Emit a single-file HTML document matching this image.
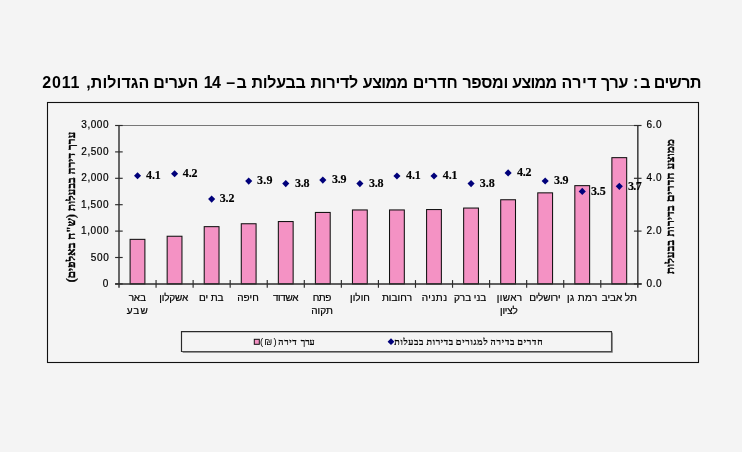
<!DOCTYPE html>
<html lang="he">
<head>
<meta charset="utf-8">
<title>תרשים ב</title>
<style>
html,body{margin:0;padding:0;background:#f4f4f4;}
body{width:742px;height:452px;overflow:hidden;position:relative;}
svg{position:absolute;left:0;top:0;display:block;}
text{fill:#000;}
.sans{font-family:"Liberation Sans","DejaVu Sans",sans-serif;}
.serif{font-family:"Liberation Serif","DejaVu Serif",serif;font-weight:bold;}
.t{font-size:16px;font-weight:bold;}
.a{font-size:10px;stroke:#000;stroke-width:0.2px;}
.d{font-size:12px;stroke:#000;stroke-width:0.15px;}
.l{font-size:9px;stroke:#000;stroke-width:0.2px;}
.p{font-size:9.5px;}
.x{font-size:11.5px;stroke:#000;stroke-width:0.4px;}
</style>
</head>
<body>
<svg width="742" height="452" viewBox="0 0 742 452">
<rect x="0" y="0" width="742" height="452" fill="#f4f4f4"/>
<g class="sans t" direction="rtl" text-anchor="middle">
<text x="677.4" y="88" letter-spacing="-0.47">תרשים</text>
<text x="642.8" y="88" letter-spacing="2.1">ב:</text>
<text x="614.58" y="88" letter-spacing="-0.22">ערך</text>
<text x="579.25" y="88" letter-spacing="0.45">דירה</text>
<text x="534.33" y="88" letter-spacing="-0.7">ממוצע</text>
<text x="485.17" y="88" letter-spacing="-0.33">ומספר</text>
<text x="435.08" y="88" letter-spacing="-0.21">חדרים</text>
<text x="385.22" y="88" letter-spacing="-0.6">ממוצע</text>
<text x="334.3" y="88" letter-spacing="-0.23">לדירות</text>
<text x="278.48" y="88" letter-spacing="-0.26">בבעלות</text>
<text x="237.12" y="88" letter-spacing="1.2">ב–</text>
<text x="212.12" y="88" letter-spacing="-0.45">14</text>
<text x="175.62" y="88" letter-spacing="-0.2">הערים</text>
<text x="117.92" y="88" letter-spacing="0.08">הגדולות,</text>
<text x="61.32" y="88" letter-spacing="0.85">2011</text>
</g>
<rect x="47.5" y="102.5" width="651" height="260" fill="none" stroke="#111" stroke-width="1.1"/>
<line x1="119" y1="125.5" x2="637.84" y2="125.5" stroke="#777" stroke-width="1.1"/>
<g fill="#f492c4" stroke="#111" stroke-width="1.05">
<rect x="130.1" y="239.35" width="14.8" height="44.55"/>
<rect x="167.16" y="236.25" width="14.8" height="47.65"/>
<rect x="204.22" y="226.65" width="14.8" height="57.25"/>
<rect x="241.28" y="223.75" width="14.8" height="60.15"/>
<rect x="278.34" y="221.55" width="14.8" height="62.35"/>
<rect x="315.4" y="212.45" width="14.8" height="71.45"/>
<rect x="352.46" y="209.95" width="14.8" height="73.95"/>
<rect x="389.52" y="209.95" width="14.8" height="73.95"/>
<rect x="426.58" y="209.55" width="14.8" height="74.35"/>
<rect x="463.64" y="208.05" width="14.8" height="75.85"/>
<rect x="500.7" y="199.75" width="14.8" height="84.15"/>
<rect x="537.76" y="192.85" width="14.8" height="91.05"/>
<rect x="574.82" y="185.65" width="14.8" height="98.25"/>
<rect x="611.88" y="157.65" width="14.8" height="126.25"/>
</g>
<g stroke="#2c2c2c" stroke-width="1.4" fill="none">
<line x1="119" y1="124.9" x2="119" y2="287.8"/>
<line x1="637.84" y1="124.9" x2="637.84" y2="287.8"/>
<line x1="115.1" y1="283.9" x2="641.74" y2="283.9" stroke-width="1.45"/>
</g>
<g stroke="#2c2c2c" stroke-width="1.15" fill="none">
<line x1="115.1" y1="125.5" x2="122.7" y2="125.5"/>
<line x1="115.1" y1="151.9" x2="122.7" y2="151.9"/>
<line x1="115.1" y1="178.3" x2="122.7" y2="178.3"/>
<line x1="115.1" y1="204.7" x2="122.7" y2="204.7"/>
<line x1="115.1" y1="231.1" x2="122.7" y2="231.1"/>
<line x1="115.1" y1="257.5" x2="122.7" y2="257.5"/>
<line x1="115.1" y1="283.9" x2="122.7" y2="283.9"/>
<line x1="633.94" y1="125.5" x2="641.54" y2="125.5"/>
<line x1="633.94" y1="178.3" x2="641.54" y2="178.3"/>
<line x1="633.94" y1="231.1" x2="641.54" y2="231.1"/>
<line x1="633.94" y1="283.9" x2="641.54" y2="283.9"/>
<line x1="156.06" y1="280.1" x2="156.06" y2="287.8"/>
<line x1="193.12" y1="280.1" x2="193.12" y2="287.8"/>
<line x1="230.18" y1="280.1" x2="230.18" y2="287.8"/>
<line x1="267.24" y1="280.1" x2="267.24" y2="287.8"/>
<line x1="304.3" y1="280.1" x2="304.3" y2="287.8"/>
<line x1="341.36" y1="280.1" x2="341.36" y2="287.8"/>
<line x1="378.42" y1="280.1" x2="378.42" y2="287.8"/>
<line x1="415.48" y1="280.1" x2="415.48" y2="287.8"/>
<line x1="452.54" y1="280.1" x2="452.54" y2="287.8"/>
<line x1="489.6" y1="280.1" x2="489.6" y2="287.8"/>
<line x1="526.66" y1="280.1" x2="526.66" y2="287.8"/>
<line x1="563.72" y1="280.1" x2="563.72" y2="287.8"/>
<line x1="600.78" y1="280.1" x2="600.78" y2="287.8"/>
</g>
<g fill="#00007a">
<path d="M133.98 175.7L137.53 172.15L141.08 175.7L137.53 179.25Z"/>
<path d="M171.04 173.8L174.59 170.25L178.14 173.8L174.59 177.35Z"/>
<path d="M208.1 199.1L211.65 195.55L215.2 199.1L211.65 202.65Z"/>
<path d="M245.16 181.1L248.71 177.55L252.26 181.1L248.71 184.65Z"/>
<path d="M282.22 183.6L285.77 180.05L289.32 183.6L285.77 187.15Z"/>
<path d="M319.28 180.1L322.83 176.55L326.38 180.1L322.83 183.65Z"/>
<path d="M356.34 183.6L359.89 180.05L363.44 183.6L359.89 187.15Z"/>
<path d="M393.4 176L396.95 172.45L400.5 176L396.95 179.55Z"/>
<path d="M430.46 176L434.01 172.45L437.56 176L434.01 179.55Z"/>
<path d="M467.52 183.6L471.07 180.05L474.62 183.6L471.07 187.15Z"/>
<path d="M504.58 172.9L508.13 169.35L511.68 172.9L508.13 176.45Z"/>
<path d="M541.64 181L545.19 177.45L548.74 181L545.19 184.55Z"/>
<path d="M578.7 191.4L582.25 187.85L585.8 191.4L582.25 194.95Z"/>
<path d="M615.76 186.35L619.31 182.8L622.86 186.35L619.31 189.9Z"/>
</g>
<g class="serif d" text-anchor="middle">
<text x="153.3" y="179" letter-spacing="-0.2">4.1</text>
<text x="190.12" y="177.1" letter-spacing="-0.15">4.2</text>
<text x="227.08" y="202.4" letter-spacing="-0.1">3.2</text>
<text x="264.92" y="184.4" letter-spacing="0.25">3.9</text>
<text x="302.08" y="186.9" letter-spacing="-0.25">3.8</text>
<text x="339.18" y="183.4" letter-spacing="-0.25">3.9</text>
<text x="376.18" y="186.9" letter-spacing="-0.25">3.8</text>
<text x="413.3" y="179.3" letter-spacing="-0.2">4.1</text>
<text x="450.12" y="179.3" letter-spacing="-0.15">4.1</text>
<text x="487.25" y="186.9">3.8</text>
<text x="524.17" y="176.2" letter-spacing="-0.2">4.2</text>
<text x="561.12" y="184.3" letter-spacing="-0.3">3.9</text>
<text x="598.25" y="194.7" letter-spacing="-0.23">3.5</text>
<text x="634.52" y="189.65" letter-spacing="-0.65">3.7</text>
</g>
<g class="sans a" text-anchor="middle">
<text x="95.2" y="127.6" letter-spacing="0.55">3,000</text>
<text x="95.2" y="154.9" letter-spacing="0.55">2,500</text>
<text x="95.2" y="180.65" letter-spacing="0.55">2,000</text>
<text x="95.1" y="207.6" letter-spacing="0.6">1,500</text>
<text x="95.1" y="233.6" letter-spacing="0.6">1,000</text>
<text x="100.05" y="260.6" letter-spacing="0.62">500</text>
<text x="105.45" y="286.9">0</text>
<text x="654.3" y="127.8" letter-spacing="0.62">6.0</text>
<text x="654.3" y="180.7" letter-spacing="0.5">4.0</text>
<text x="654.3" y="233.7" letter-spacing="0.62">2.0</text>
<text x="654.3" y="286.7" letter-spacing="0.5">0.0</text>
</g>
<g class="sans a" text-anchor="middle" direction="rtl">
<text x="137.25" y="301.1" letter-spacing="-0.18">באר</text>
<text x="137.73" y="314.1" letter-spacing="1.08">שבע</text>
<text x="173.73" y="301.1" letter-spacing="-0.12">אשקלון</text>
<text x="211.15" y="301.1" letter-spacing="-0.1">בת ים</text>
<text x="248.02" y="301.1" letter-spacing="0.07">חיפה</text>
<text x="285.55" y="301.1" letter-spacing="-0.35">אשדוד</text>
<text x="321.73" y="301.1" letter-spacing="-0.53">פתח</text>
<text x="322.1" y="314.1" letter-spacing="0.05">תקוה</text>
<text x="360" y="301.1" letter-spacing="0.04">חולון</text>
<text x="396.98" y="301.1" letter-spacing="0.08">רחובות</text>
<text x="434.65" y="301.1" letter-spacing="0.5">נתניה</text>
<text x="470.12" y="301.1" letter-spacing="-0.01">בני ברק</text>
<text x="509.68" y="301.1" letter-spacing="0.35">ראשון</text>
<text x="508.85" y="314.1" letter-spacing="-0.16">לציון</text>
<text x="544.85" y="301.1" letter-spacing="-0.15">ירושלים</text>
<text x="582.35" y="301.1" letter-spacing="0.4">רמת גן</text>
<text x="619.22" y="301.1" letter-spacing="-0.05">תל אביב</text>
</g>
<text class="serif x" direction="rtl" text-anchor="middle" letter-spacing="0.13" transform="translate(75.1 206.93) rotate(-90)">ערך דירה בבעלות (ש"ח באלפים)</text>
<text class="serif x" direction="rtl" text-anchor="middle" letter-spacing="0.27" transform="translate(674.1 206.47) rotate(-90)">ממוצע חדרים בדירות בבעלות</text>
<path d="M182.6 352.45H612.45V332.6" fill="none" stroke="#8c8c8c" stroke-width="1"/>
<path d="M181.5 351.55H611.5V331.55" fill="none" stroke="#4a4a4a" stroke-width="1.1"/>
<path d="M181.5 352.1V331.55H612.05" fill="none" stroke="#2a2a2a" stroke-width="1.15"/>
<rect x="254.3" y="339.3" width="5" height="5" fill="#f492c4" stroke="#111" stroke-width="1"/>
<path fill="#00007a" d="M387.6 341.7L391 338.3L394.4 341.7L391 345.1Z"/>
<g direction="rtl" text-anchor="middle">
<text class="serif l" x="307.67" y="345" letter-spacing="-0.1">ערך</text>
<text class="serif l" x="287.75" y="345" letter-spacing="0.63">דירה</text>
<text class="sans p" x="268.85" y="345" letter-spacing="1.05">(₪)</text>
<text class="serif l" x="530.33" y="345" letter-spacing="0.83">חדרים</text>
<text class="serif l" x="502.88" y="345" letter-spacing="0.79">בדירה</text>
<text class="serif l" x="472.1" y="345" letter-spacing="0.78">למגורים</text>
<text class="serif l" x="440.2" y="345" letter-spacing="0.68">בדירות</text>
<text class="serif l" x="409.17" y="345" letter-spacing="0.66">בבעלות</text>
</g>
</svg>
</body>
</html>
